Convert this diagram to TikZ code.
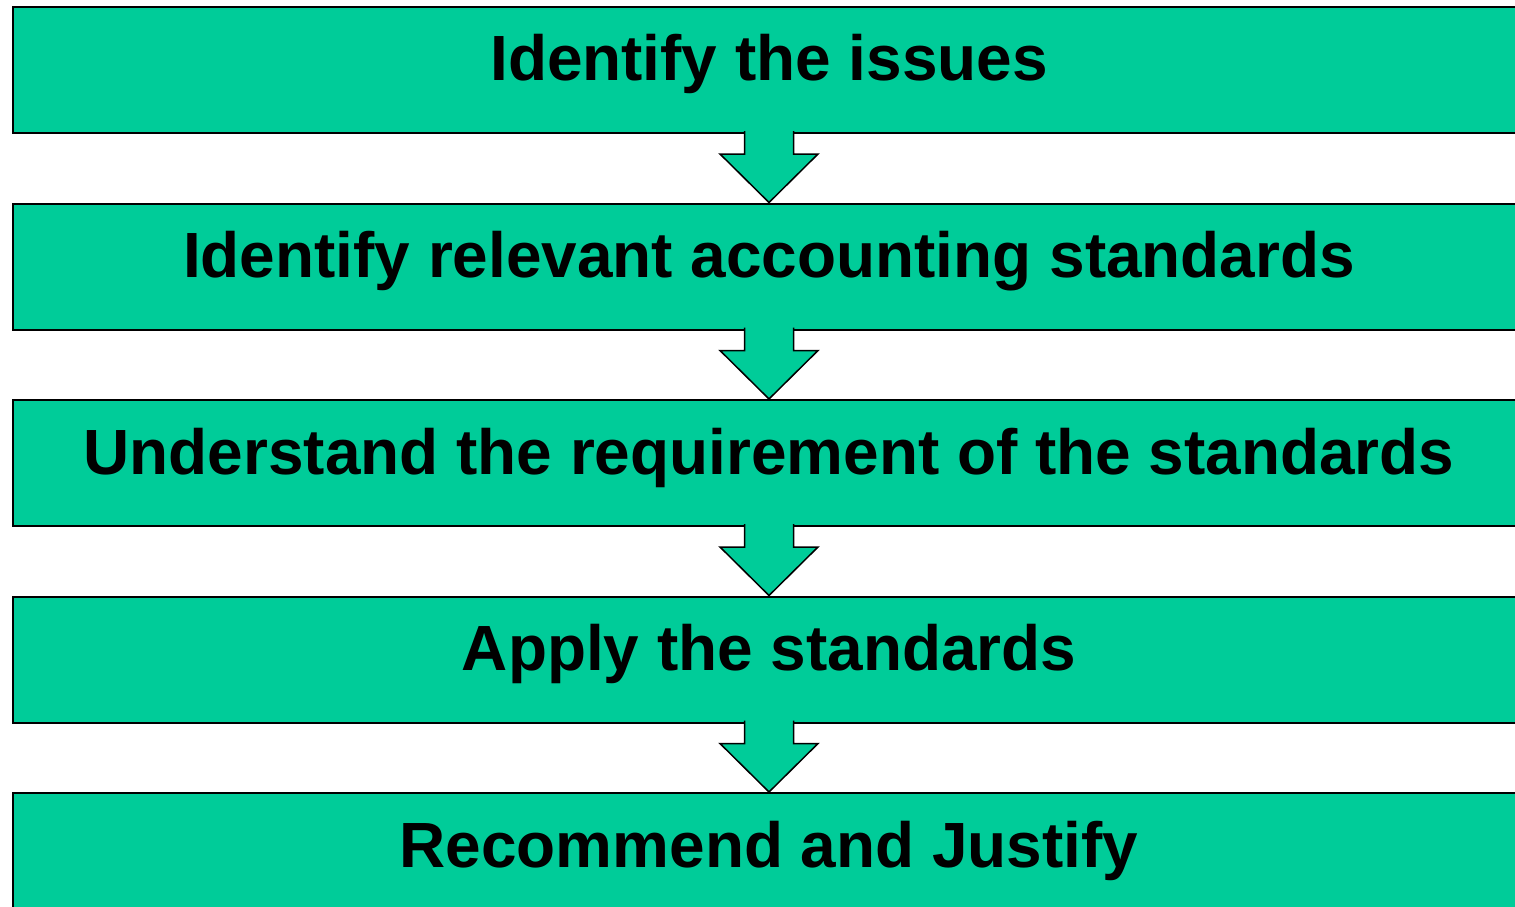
\documentclass[tikz,border=0pt]{standalone}
\usepackage{fontspec}
\setmainfont{Liberation Sans}
\usetikzlibrary{positioning,calc}
\definecolor{stepgreen}{HTML}{00CC99}
\tikzset{
    stepbox/.style={draw, line width=2pt, fill=stepgreen, minimum width=1512pt, minimum height=126pt, inner sep=0pt, text height=22pt, text depth=0pt, font=\fontsize{63.9}{68}\selectfont\bfseries},
    blockarrow/.style={draw, line width=1.5pt, fill=stepgreen, line join=miter}
}

\begin{document}
\begin{tikzpicture}[x=1pt, y=-1pt, node distance=68.5pt]
    \useasboundingbox (0,0) rectangle (1515,907);
    \clip (0,0) rectangle (1515,907);
    \node[stepbox, anchor=north west] (issues) at (12,6) {Identify the issues};
    \node[stepbox, below=of issues] (relevant) {Identify relevant accounting standards};
    \node[stepbox, below=of relevant] (require) {Understand the requirement of the standards};
    \node[stepbox, below=of require] (apply) {Apply the standards};
    \node[stepbox, below=of apply] (justify) {Recommend and Justify};
    \foreach \a/\b in {issues/relevant, relevant/require, require/apply, apply/justify} {
        \draw[blockarrow] ($(\a.south)+(-24.5,-3)$) -- ++(0,23) -- ++(-24.5,0) -- (\b.north)
            -- ($(\a.south)+(49,20)$) -- ++(-24.5,0) -- ++(0,-23);
    }
\end{tikzpicture}
\end{document}
